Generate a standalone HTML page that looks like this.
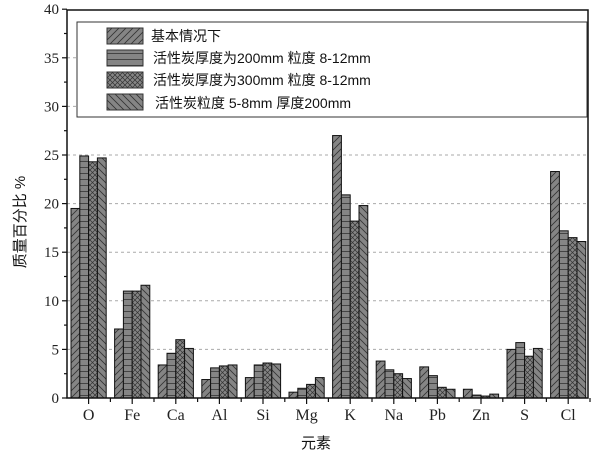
<!DOCTYPE html>
<html><head><meta charset="utf-8"><style>
html,body{margin:0;padding:0;background:#fff;}
svg{display:block;}
</style></head><body>
<svg width="600" height="475" viewBox="0 0 600 475" xmlns="http://www.w3.org/2000/svg">
<defs>
<pattern id="p1" patternUnits="userSpaceOnUse" width="7" height="7">
<rect width="7" height="7" fill="#858585"/><path d="M-1,8 L8,-1 M-1,1 L1,-1 M6,8 L8,6" stroke="#333" stroke-width="0.8"/></pattern>
<pattern id="p2" patternUnits="userSpaceOnUse" width="6" height="6">
<rect width="6" height="6" fill="#858585"/><path d="M0,5.5 H6" stroke="#333" stroke-width="0.8"/></pattern>
<pattern id="p3" patternUnits="userSpaceOnUse" width="5" height="5">
<rect width="5" height="5" fill="#858585"/><path d="M0,0 L5,5 M5,0 L0,5" stroke="#333" stroke-width="0.7"/></pattern>
<pattern id="p4" patternUnits="userSpaceOnUse" width="7" height="7">
<rect width="7" height="7" fill="#858585"/><path d="M-1,-1 L8,8 M6,-1 L8,1 M-1,6 L1,8" stroke="#333" stroke-width="0.8"/></pattern>
</defs>
<rect x="0" y="0" width="600" height="475" fill="#fff"/>
<g stroke="#aaa" stroke-dasharray="3,3" stroke-width="1">
<line x1="67" x2="588" y1="349.4" y2="349.4"/>
<line x1="67" x2="588" y1="300.8" y2="300.8"/>
<line x1="67" x2="588" y1="252.2" y2="252.2"/>
<line x1="67" x2="588" y1="203.6" y2="203.6"/>
<line x1="67" x2="588" y1="155" y2="155"/>
<line x1="67" x2="588" y1="106.4" y2="106.4"/>
<line x1="67" x2="588" y1="57.8" y2="57.8"/>
</g>
<g id="bars" stroke="#111" stroke-width="1"></g>
<rect x="67" y="10" width="521" height="388" fill="none" stroke="#111" stroke-width="1.5"/>
<g id="ticks" stroke="#111" stroke-width="1.2"></g>
<g font-family="Liberation Serif, serif" font-size="15" fill="#222" text-anchor="end" id="ylab"></g>
<g font-family="Liberation Serif, serif" font-size="16" fill="#222" text-anchor="middle" id="xlab"></g>
<rect x="77" y="22" width="510" height="95" fill="#fff" stroke="#333" stroke-width="1"/>
<rect x="107" y="28" width="36" height="16" fill="url(#p1)" stroke="#333"/>
<rect x="107" y="50" width="36" height="16" fill="url(#p2)" stroke="#333"/>
<rect x="107" y="72" width="36" height="16" fill="url(#p3)" stroke="#333"/>
<rect x="107" y="94" width="36" height="16" fill="url(#p4)" stroke="#333"/>
<g font-family="Liberation Sans, 'Noto Sans CJK SC', sans-serif" font-size="14" fill="#111">
<text x="151" y="41">基本情况下</text>
<text x="153" y="63">活性炭厚度为200mm 粒度 8-12mm</text>
<text x="153" y="85">活性炭厚度为300mm 粒度 8-12mm</text>
<text x="155" y="108">活性炭粒度 5-8mm 厚度200mm</text>
</g>
<text x="316" y="448" font-family="Liberation Sans, 'Noto Sans CJK SC', sans-serif" font-size="15" text-anchor="middle" fill="#111">元素</text>
<text transform="translate(25,222) rotate(-90)" font-family="Liberation Sans, 'Noto Sans CJK SC', sans-serif" font-size="15" text-anchor="middle" fill="#111">质量百分比  %</text>
<script>
var d=[[19.5,24.9,24.3,24.7],[7.1,11,11,11.6],[3.4,4.6,6.0,5.1],[1.9,3.1,3.3,3.4],[2.1,3.4,3.6,3.5],[0.6,1.0,1.4,2.1],[27,20.9,18.2,19.8],[3.8,2.9,2.5,2.0],[3.2,2.3,1.1,0.9],[0.9,0.3,0.2,0.4],[5.0,5.7,4.3,5.1],[23.3,17.2,16.5,16.1]];
var names=["O","Fe","Ca","Al","Si","Mg","K","Na","Pb","Zn","S","Cl"];
var ns="http://www.w3.org/2000/svg",g=document.getElementById("bars"),t=document.getElementById("ticks"),yl=document.getElementById("ylab"),xl=document.getElementById("xlab");
function el(p,n,a){var e=document.createElementNS(ns,n);for(var k in a)e.setAttribute(k,a[k]);p.appendChild(e);return e;}
var s=9.72;
for(var i=0;i<12;i++){var x0=71+43.6*i;for(var j=0;j<4;j++){var h=d[i][j]*s;el(g,"rect",{x:x0+j*8.8,y:398-h,width:8.8,height:h,fill:"url(#p"+(j+1)+")"});}
var c=x0+17.6;el(t,"line",{x1:c,x2:c,y1:398,y2:404});el(t,"line",{x1:c+21.8,x2:c+21.8,y1:398,y2:402});
var tx=el(xl,"text",{x:c,y:420});tx.textContent=names[i];}
for(var v=0;v<=40;v+=5){var y=398-v*s;el(t,"line",{x1:62,x2:67,y1:y,y2:y});if(v<40)el(t,"line",{x1:64,x2:67,y1:y-24.3,y2:y-24.3});var tt=el(yl,"text",{x:59,y:y+5});tt.textContent=v;}
</script>
</svg>
</body></html>
